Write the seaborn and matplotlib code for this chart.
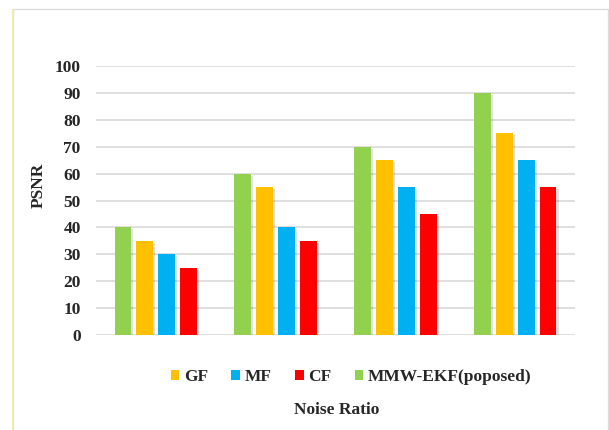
import matplotlib
matplotlib.use("Agg")
import matplotlib.pyplot as plt
from matplotlib.patches import Rectangle, Patch
import matplotlib.patheffects as pe
import seaborn as sns
import pandas as pd

# Data
groups = ["1", "2", "3", "4"]
methods = ["MMW-EKF(poposed)", "GF", "MF", "CF"]
mmw_ekf = [40, 60, 70, 90]
gf = [35, 55, 65, 75]
mf = [30, 40, 55, 65]
cf = [25, 35, 45, 55]
legend_order = ["GF", "MF", "CF", "MMW-EKF(poposed)"]
yticks = [0, 10, 20, 30, 40, 50, 60, 70, 80, 90, 100]

colors = {"MMW-EKF(poposed)": "#92D050", "GF": "#FFC000",
          "MF": "#00B0F0", "CF": "#FF0000"}

rows = []
for name, vals in zip(methods, [mmw_ekf, gf, mf, cf]):
    for g, v in zip(groups, vals):
        rows.append({"group": g, "method": name, "psnr": v})
df = pd.DataFrame(rows)

sns.set_theme(style="white")
plt.rcParams["font.family"] = ["Liberation Serif", "DejaVu Serif"]

fig = plt.figure(figsize=(6.09, 4.30), dpi=100)
ax = fig.add_axes([96 / 609, 1 - 335 / 430, 479 / 609, 269 / 430])

sns.barplot(data=df, x="group", y="psnr", hue="method", hue_order=methods,
            palette=colors, saturation=1, width=0.733, gap=0.23, dodge=True,
            errorbar=None, ax=ax, legend=False, zorder=3)

for bar in ax.patches:
    bar.set_edgecolor("none")
    bar.set_path_effects([pe.SimplePatchShadow(offset=(1.5, -1.5), shadow_rgbFace="#000000", alpha=0.12),
                          pe.Normal()])

ax.set_ylim(0, 100)
ax.set_xlim(-0.5, 3.5)
ax.set_yticks(yticks)
ax.set_yticklabels([str(t) for t in yticks], fontsize=12.5, fontweight="bold")
ax.set_xticks([])
ax.tick_params(axis="y", length=0, pad=11)
for s in ax.spines.values():
    s.set_visible(False)
ax.yaxis.grid(True, color="#d9d9d9", linewidth=1.2, zorder=0)
ax.set_axisbelow(True)
ax.set_xlabel("")
ax.set_ylabel("")

fig.text(39 / 609, 1 - 185 / 430, "PSNR", rotation=90, ha="center", va="center",
         fontsize=12.5, fontweight="bold")
fig.text(337 / 609, 1 - 410 / 430, "Noise Ratio", ha="center", va="center",
         fontsize=12.5, fontweight="bold")

handles = [Patch(facecolor=colors[m], edgecolor="none") for m in legend_order]
fig.legend(handles, legend_order, loc="center", bbox_to_anchor=(351 / 609, 1 - 377 / 430),
           ncol=4, frameon=False, prop={"size": 12.5, "weight": "bold"},
           handlelength=0.5, handleheight=0.5, handletextpad=0.25, columnspacing=1.35)

# Outer frame
fig.patches.append(Rectangle((13 / 609, -0.05), (608 - 13) / 609, 1.05 - 9 / 430,
                             transform=fig.transFigure, fill=False,
                             edgecolor="#dcdcdc", linewidth=1.0))
fig.patches.append(Rectangle((13 / 609, -0.05), 0, 1.05 - 9 / 430,
                             transform=fig.transFigure, fill=False,
                             edgecolor="#ecebb0", linewidth=1.2))

fig.savefig("out.png", dpi=100)
